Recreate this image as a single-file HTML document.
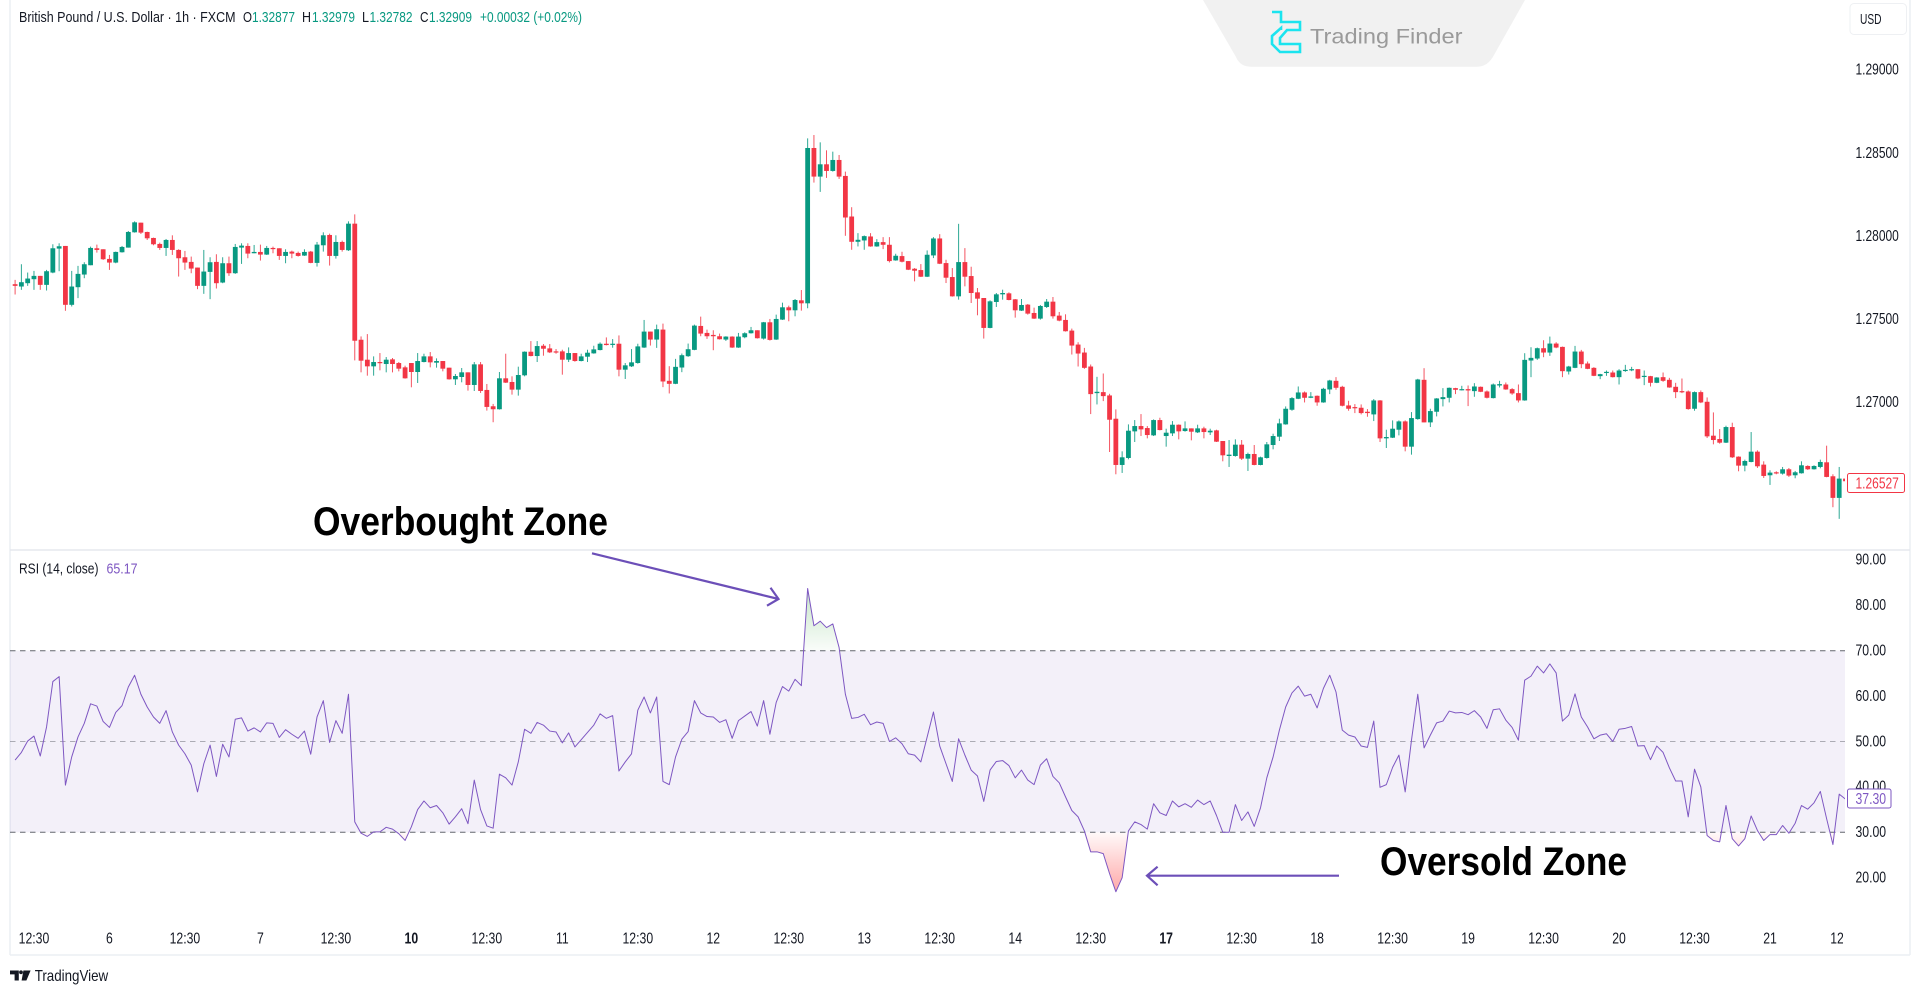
<!DOCTYPE html>
<html lang="en">
<head>
<meta charset="utf-8">
<title>GBP/USD 1h with RSI</title>
<style>
html,body{margin:0;padding:0;background:#fff;width:1919px;height:996px;overflow:hidden}
svg{display:block;filter:blur(0.35px)}
text{font-family:"Liberation Sans",sans-serif;fill:#131722}
</style>
</head>
<body>
<svg id="chart" xmlns="http://www.w3.org/2000/svg" width="1919" height="996" viewBox="0 0 1919 996">
  <defs>
    <clipPath id="plot-clip"><rect x="10" y="0" width="1835" height="955"/></clipPath>
    <clipPath id="time-clip"><rect x="10" y="920" width="1833" height="34"/></clipPath>
    <clipPath id="above-70"><rect x="10" y="551" width="1835" height="99.7"/></clipPath>
    <clipPath id="below-30"><rect x="10" y="832.3" width="1835" height="100"/></clipPath>
    <linearGradient id="ob-gradient" x1="0" y1="0" x2="0" y2="1">
      <stop offset="0" stop-color="#4caf50" stop-opacity="0.32"/>
      <stop offset="1" stop-color="#4caf50" stop-opacity="0.03"/>
    </linearGradient>
    <linearGradient id="os-gradient" x1="0" y1="0" x2="0" y2="1">
      <stop offset="0" stop-color="#ff5252" stop-opacity="0.03"/>
      <stop offset="1" stop-color="#ff5252" stop-opacity="0.5"/>
    </linearGradient>
  </defs>

  <rect x="0" y="0" width="1919" height="996" fill="#ffffff"/>
  <line x1="10" y1="0" x2="10" y2="955" stroke="#eceff4" stroke-width="1.5"/>
  <line x1="1910" y1="0" x2="1910" y2="955" stroke="#eceff4" stroke-width="1.5"/>
  <line x1="10" y1="955" x2="1910" y2="955" stroke="#eceff4" stroke-width="1.5"/>
  <line x1="10" y1="550" x2="1910" y2="550" stroke="#e6e8ee" stroke-width="1.5"/>

  <g id="candles" clip-path="url(#plot-clip)"></g>
  <g id="rsi-pane" clip-path="url(#plot-clip)"></g>
  <g id="price-axis"></g>
  <g id="rsi-axis"></g>
  <g id="time-axis" clip-path="url(#time-clip)"></g>

  <g font-size="15">
    <text x="19" y="22" textLength="216.5" lengthAdjust="spacingAndGlyphs">British Pound / U.S. Dollar · 1h · FXCM</text>
    <text x="243" y="22" textLength="9" lengthAdjust="spacingAndGlyphs">O</text>
    <text x="252" y="22" textLength="43" lengthAdjust="spacingAndGlyphs" style="fill:#089981">1.32877</text>
    <text x="302" y="22" textLength="9" lengthAdjust="spacingAndGlyphs">H</text>
    <text x="312" y="22" textLength="43" lengthAdjust="spacingAndGlyphs" style="fill:#089981">1.32979</text>
    <text x="362" y="22" textLength="7" lengthAdjust="spacingAndGlyphs">L</text>
    <text x="369.5" y="22" textLength="43" lengthAdjust="spacingAndGlyphs" style="fill:#089981">1.32782</text>
    <text x="420" y="22" textLength="8.5" lengthAdjust="spacingAndGlyphs">C</text>
    <text x="429" y="22" textLength="43" lengthAdjust="spacingAndGlyphs" style="fill:#089981">1.32909</text>
    <text x="480" y="22" textLength="102" lengthAdjust="spacingAndGlyphs" style="fill:#089981">+0.00032 (+0.02%)</text>
  </g>

  <g font-size="15">
    <text x="19" y="573.5" textLength="79.5" lengthAdjust="spacingAndGlyphs">RSI (14, close)</text>
    <text x="106.5" y="573.5" textLength="31" lengthAdjust="spacingAndGlyphs" style="fill:#7e57c2">65.17</text>
  </g>

  <g>
    <path d="M1203,0 L1525,0 L1494,55 Q1488,66.7 1477,66.7 L1251,66.7 Q1240,66.7 1236,57 Z" fill="#f1f1f1"/>
    <path d="M1272,12 H1281 V22 H1300 V30 H1287 L1280,38 V44 H1300 V52 H1280 L1272,44 V36 L1281,28 V30" fill="none" stroke="#1be4ef" stroke-width="2.6"/>
    <text x="1310" y="43.5" font-size="21" textLength="152.5" lengthAdjust="spacingAndGlyphs" style="fill:#9a9a9a">Trading Finder</text>
  </g>

  <g>
    <rect x="1850" y="3.5" width="56.5" height="31" rx="4" fill="#fff" stroke="#eef0f3"/>
    <text x="1860" y="24" font-size="15" textLength="21.5" lengthAdjust="spacingAndGlyphs">USD</text>
  </g>

  <g>
    <rect x="1847.5" y="473.5" width="57" height="19" rx="2" fill="#fff" stroke="#f23645" stroke-width="1"/>
    <text x="1855.5" y="488.5" font-size="15.5" textLength="43.3" lengthAdjust="spacingAndGlyphs" style="fill:#f23645">1.26527</text>
  </g>
  <g>
    <rect x="1847.5" y="789" width="43.5" height="19" rx="2" fill="#fff" stroke="#7e57c2" stroke-width="1"/>
    <text x="1855.5" y="804" font-size="15.5" textLength="30.6" lengthAdjust="spacingAndGlyphs" style="fill:#7e57c2">37.30</text>
  </g>

  <g>
    <text x="313" y="535" font-size="40" font-weight="700" textLength="295" lengthAdjust="spacingAndGlyphs" style="fill:#000">Overbought Zone</text>
    <path d="M592,553.3 L778.5,599 M770.5,587.7 L778.5,599 L767,605.7" fill="none" stroke="#6c4fb8" stroke-width="2.2"/>
  </g>
  <g>
    <text x="1380" y="875" font-size="40" font-weight="700" textLength="247" lengthAdjust="spacingAndGlyphs" style="fill:#000">Oversold Zone</text>
    <path d="M1339,875.7 L1147,875.7 M1157.6,866.7 L1147,875.7 L1157.6,885.3" fill="none" stroke="#6c4fb8" stroke-width="2.2"/>
  </g>

  <g>
    <path d="M10,970.5 H18.8 V980.5 H14.6 V974.4 H10 Z M23.4,970.5 H30.6 L26.4,980.5 H21.6 Z" fill="#131722"/>
    <circle cx="21" cy="972.3" r="1.9" fill="#131722"/>
    <text x="34.7" y="981" font-size="16" textLength="73.5" lengthAdjust="spacingAndGlyphs">TradingView</text>
  </g>
</svg>

<script>
const opens = [
1.27712,1.27698,1.27718,1.27742,1.27762,1.27708,1.27782,1.27926,1.27942,1.27588,
1.27694,1.27770,1.27826,1.27928,1.27922,1.27864,1.27842,1.27904,1.27932,1.28024,
1.28082,1.28026,1.27990,1.27954,1.27930,1.27978,1.27918,1.27874,1.27846,1.27812,
1.27702,1.27786,1.27846,1.27722,1.27838,1.27778,1.27932,1.27942,1.27898,1.27906,
1.27890,1.27930,1.27928,1.27882,1.27908,1.27900,1.27884,1.27908,1.27840,1.27946,
1.28008,1.27882,1.27966,1.27916,1.28076,1.27378,1.27258,1.27218,1.27244,1.27232,
1.27260,1.27238,1.27212,1.27238,1.27184,1.27244,1.27278,1.27240,1.27250,1.27210,
1.27140,1.27154,1.27182,1.27106,1.27230,1.27076,1.26978,1.26960,1.27146,1.27124,
1.27078,1.27164,1.27306,1.27280,1.27342,1.27326,1.27308,1.27308,1.27258,1.27298,
1.27250,1.27276,1.27296,1.27316,1.27354,1.27348,1.27354,1.27198,1.27218,1.27238,
1.27331,1.27427,1.27379,1.27439,1.27131,1.27113,1.27211,1.27279,1.27317,1.27461,
1.27419,1.27407,1.27399,1.27379,1.27397,1.27331,1.27393,1.27417,1.27435,1.27385,
1.27483,1.27379,1.27499,1.27573,1.27555,1.27615,1.27597,1.28531,1.28359,1.28433,
1.28393,1.28459,1.28363,1.28119,1.27967,1.27975,1.27999,1.27939,1.27965,1.27949,
1.27855,1.27881,1.27851,1.27805,1.27797,1.27757,1.27885,1.27987,1.27839,1.27755,
1.27639,1.27845,1.27761,1.27663,1.27629,1.27449,1.27605,1.27651,1.27657,1.27621,
1.27553,1.27589,1.27539,1.27505,1.27575,1.27607,1.27523,1.27497,1.27433,1.27349,
1.27301,1.27217,1.27057,1.27063,1.27043,1.26903,1.26625,1.26667,1.26827,1.26859,
1.26847,1.26803,1.26895,1.26799,1.26815,1.26867,1.26829,1.26845,1.26821,1.26845,
1.26821,1.26833,1.26769,1.26679,1.26679,1.26747,1.26663,1.26691,1.26625,1.26667,
1.26745,1.26795,1.26869,1.26957,1.27023,1.27061,1.27029,1.27041,1.27001,1.27079,
1.27131,1.27095,1.26983,1.26973,1.26969,1.26945,1.26929,1.27013,1.26785,1.26789,
1.26837,1.26887,1.26735,1.26901,1.27137,1.26881,1.26945,1.27021,1.27029,1.27087,
1.27075,1.27081,1.27069,1.27095,1.27067,1.27027,1.27103,1.27109,1.27081,1.27057,
1.27013,1.27253,1.27265,1.27327,1.27301,1.27355,1.27335,1.27187,1.27209,1.27307,
1.27235,1.27209,1.27159,1.27181,1.27181,1.27153,1.27193,1.27197,1.27201,1.27157,
1.27159,1.27119,1.27153,1.27137,1.27095,1.27069,1.27067,1.26963,1.27063,1.27005,
1.26801,1.26781,1.26759,1.26853,1.26675,1.26621,1.26643,1.26705,1.26627,1.26563,
1.26581,1.26573,1.26599,1.26563,1.26575,1.26619,1.26599,1.26613,1.26641,1.26557,1.26427,1.26543];

const highs = [
1.27738,1.27832,1.27782,1.27792,1.27762,1.27798,1.27952,1.27958,1.27942,1.27792,
1.27822,1.27844,1.27938,1.27950,1.27922,1.27888,1.27908,1.27942,1.28032,1.28090,
1.28082,1.28028,1.27992,1.27962,1.27984,1.28006,1.27922,1.27912,1.27878,1.27812,
1.27918,1.27874,1.27892,1.27874,1.27878,1.27954,1.27958,1.27958,1.27948,1.27950,
1.27942,1.27938,1.27928,1.27922,1.27914,1.27908,1.27922,1.27912,1.27966,1.28024,
1.28016,1.28006,1.27974,1.28090,1.28132,1.27398,1.27412,1.27278,1.27298,1.27274,
1.27268,1.27244,1.27222,1.27238,1.27298,1.27294,1.27304,1.27266,1.27250,1.27210,
1.27172,1.27208,1.27182,1.27244,1.27244,1.27112,1.26992,1.27184,1.27294,1.27158,
1.27216,1.27308,1.27370,1.27370,1.27352,1.27352,1.27322,1.27318,1.27332,1.27298,
1.27294,1.27318,1.27342,1.27362,1.27392,1.27382,1.27404,1.27238,1.27322,1.27354,
1.27497,1.27427,1.27469,1.27475,1.27219,1.27263,1.27295,1.27355,1.27469,1.27517,
1.27439,1.27435,1.27415,1.27399,1.27399,1.27419,1.27423,1.27455,1.27435,1.27485,
1.27503,1.27529,1.27601,1.27583,1.27623,1.27677,1.28589,1.28609,1.28565,1.28517,
1.28509,1.28489,1.28389,1.28175,1.28019,1.28005,1.28019,1.27983,1.27995,1.27995,
1.27895,1.27907,1.27851,1.27809,1.27833,1.27915,1.27995,1.28013,1.27859,1.27809,
1.28075,1.27929,1.27817,1.27689,1.27629,1.27615,1.27659,1.27679,1.27663,1.27623,
1.27623,1.27593,1.27571,1.27587,1.27623,1.27635,1.27545,1.27531,1.27445,1.27363,
1.27329,1.27229,1.27155,1.27175,1.27053,1.26959,1.26707,1.26869,1.26895,1.26931,
1.26859,1.26899,1.26909,1.26843,1.26889,1.26869,1.26887,1.26845,1.26867,1.26855,
1.26843,1.26837,1.26769,1.26775,1.26779,1.26775,1.26699,1.26745,1.26675,1.26763,
1.26813,1.26903,1.26977,1.27033,1.27097,1.27067,1.27063,1.27043,1.27089,1.27137,
1.27153,1.27101,1.27011,1.26991,1.26989,1.26961,1.27021,1.27015,1.26837,1.26893,
1.26893,1.26893,1.26943,1.27143,1.27207,1.26963,1.27027,1.27087,1.27091,1.27089,
1.27101,1.27103,1.27117,1.27097,1.27073,1.27115,1.27131,1.27121,1.27087,1.27109,
1.27297,1.27333,1.27331,1.27375,1.27397,1.27363,1.27337,1.27221,1.27341,1.27317,
1.27247,1.27213,1.27173,1.27193,1.27193,1.27201,1.27227,1.27215,1.27201,1.27193,
1.27161,1.27153,1.27181,1.27149,1.27119,1.27145,1.27073,1.27067,1.27073,1.27031,
1.26941,1.26841,1.26861,1.26879,1.26677,1.26657,1.26823,1.26713,1.26647,1.26593,
1.26587,1.26613,1.26607,1.26589,1.26647,1.26623,1.26623,1.26657,1.26741,1.26569,1.26613,1.26557];

const lows = [
1.27650,1.27678,1.27702,1.27678,1.27678,1.27674,1.27778,1.27790,1.27552,1.27578,
1.27628,1.27748,1.27826,1.27902,1.27858,1.27798,1.27838,1.27902,1.27932,1.28022,
1.28014,1.27978,1.27946,1.27918,1.27882,1.27888,1.27758,1.27798,1.27778,1.27682,
1.27654,1.27622,1.27686,1.27718,1.27762,1.27774,1.27834,1.27868,1.27898,1.27854,
1.27888,1.27898,1.27858,1.27838,1.27868,1.27878,1.27882,1.27838,1.27818,1.27908,
1.27824,1.27866,1.27908,1.27912,1.27254,1.27182,1.27162,1.27162,1.27194,1.27182,
1.27182,1.27188,1.27144,1.27092,1.27118,1.27242,1.27212,1.27210,1.27188,1.27138,
1.27106,1.27122,1.27072,1.27070,1.27058,1.26952,1.26882,1.26958,1.27118,1.27048,
1.27042,1.27158,1.27278,1.27244,1.27282,1.27298,1.27294,1.27168,1.27244,1.27246,
1.27248,1.27244,1.27294,1.27314,1.27344,1.27330,1.27158,1.27142,1.27214,1.27234,
1.27329,1.27343,1.27329,1.27093,1.27055,1.27111,1.27183,1.27275,1.27315,1.27399,
1.27383,1.27315,1.27379,1.27371,1.27329,1.27329,1.27387,1.27415,1.27385,1.27379,
1.27373,1.27377,1.27497,1.27489,1.27519,1.27553,1.27567,1.28323,1.28267,1.28351,
1.28389,1.28345,1.28003,1.27919,1.27939,1.27919,1.27937,1.27937,1.27923,1.27843,
1.27853,1.27843,1.27797,1.27729,1.27755,1.27755,1.27869,1.27833,1.27719,1.27637,
1.27619,1.27699,1.27599,1.27525,1.27385,1.27447,1.27575,1.27619,1.27615,1.27511,
1.27551,1.27529,1.27503,1.27499,1.27569,1.27505,1.27489,1.27427,1.27289,1.27217,
1.27203,1.26931,1.26989,1.27009,1.26703,1.26569,1.26577,1.26659,1.26763,1.26799,
1.26785,1.26799,1.26833,1.26735,1.26799,1.26779,1.26825,1.26773,1.26817,1.26785,
1.26805,1.26763,1.26647,1.26613,1.26675,1.26655,1.26589,1.26623,1.26623,1.26663,
1.26719,1.26769,1.26867,1.26951,1.27021,1.27001,1.27027,1.26981,1.26999,1.27051,
1.27077,1.26977,1.26951,1.26937,1.26929,1.26915,1.26889,1.26763,1.26727,1.26787,
1.26803,1.26707,1.26687,1.26897,1.26881,1.26853,1.26917,1.26977,1.27001,1.27051,
1.27073,1.26979,1.27035,1.27063,1.27025,1.27025,1.27091,1.27077,1.27047,1.27001,
1.27011,1.27153,1.27257,1.27273,1.27281,1.27327,1.27153,1.27169,1.27207,1.27207,
1.27201,1.27159,1.27141,1.27161,1.27151,1.27109,1.27185,1.27189,1.27141,1.27105,
1.27097,1.27117,1.27125,1.27089,1.27027,1.27057,1.26957,1.26951,1.26997,1.26787,
1.26749,1.26753,1.26757,1.26667,1.26587,1.26587,1.26641,1.26607,1.26547,1.26505,
1.26569,1.26567,1.26553,1.26545,1.26573,1.26595,1.26597,1.26605,1.26551,1.26371,1.26301,1.26525];

const closes = [
1.27702,1.27724,1.27746,1.27762,1.27708,1.27790,1.27928,1.27940,1.27588,1.27698,
1.27774,1.27832,1.27930,1.27918,1.27862,1.27842,1.27906,1.27936,1.28026,1.28084,
1.28022,1.27988,1.27952,1.27930,1.27978,1.27918,1.27868,1.27842,1.27806,1.27702,
1.27788,1.27844,1.27718,1.27838,1.27778,1.27936,1.27944,1.27896,1.27906,1.27890,
1.27930,1.27924,1.27882,1.27906,1.27896,1.27882,1.27906,1.27840,1.27950,1.28006,
1.27882,1.27966,1.27918,1.28076,1.27372,1.27252,1.27218,1.27244,1.27240,1.27258,
1.27232,1.27204,1.27146,1.27184,1.27250,1.27278,1.27242,1.27250,1.27204,1.27140,
1.27160,1.27182,1.27106,1.27230,1.27070,1.26974,1.26960,1.27146,1.27120,1.27078,
1.27166,1.27306,1.27280,1.27340,1.27324,1.27302,1.27302,1.27258,1.27298,1.27250,
1.27278,1.27300,1.27320,1.27354,1.27346,1.27354,1.27198,1.27224,1.27242,1.27338,
1.27427,1.27379,1.27441,1.27127,1.27113,1.27215,1.27285,1.27321,1.27463,1.27415,
1.27399,1.27399,1.27381,1.27397,1.27331,1.27397,1.27417,1.27435,1.27387,1.27483,
1.27377,1.27503,1.27573,1.27555,1.27617,1.27597,1.28531,1.28359,1.28433,1.28393,
1.28459,1.28359,1.28113,1.27967,1.27979,1.28001,1.27939,1.27965,1.27949,1.27851,
1.27883,1.27847,1.27799,1.27793,1.27757,1.27889,1.27987,1.27835,1.27751,1.27639,
1.27845,1.27757,1.27659,1.27625,1.27449,1.27609,1.27651,1.27659,1.27617,1.27555,
1.27587,1.27535,1.27505,1.27581,1.27607,1.27519,1.27493,1.27429,1.27343,1.27295,
1.27209,1.27051,1.27065,1.27039,1.26897,1.26625,1.26671,1.26831,1.26859,1.26839,
1.26805,1.26895,1.26835,1.26819,1.26867,1.26827,1.26845,1.26825,1.26845,1.26823,
1.26831,1.26765,1.26683,1.26687,1.26747,1.26663,1.26691,1.26625,1.26671,1.26749,
1.26799,1.26875,1.26963,1.27027,1.27061,1.27029,1.27037,1.27001,1.27083,1.27133,
1.27089,1.26981,1.26963,1.26967,1.26937,1.26937,1.27013,1.26785,1.26793,1.26843,
1.26887,1.26735,1.26907,1.27139,1.26881,1.26949,1.27025,1.27033,1.27089,1.27077,
1.27081,1.27073,1.27097,1.27065,1.27029,1.27109,1.27111,1.27079,1.27055,1.27013,
1.27257,1.27269,1.27327,1.27301,1.27355,1.27331,1.27189,1.27217,1.27307,1.27231,
1.27203,1.27161,1.27171,1.27185,1.27153,1.27193,1.27197,1.27201,1.27145,1.27161,
1.27119,1.27151,1.27131,1.27091,1.27063,1.27063,1.26961,1.27063,1.27001,1.26797,
1.26775,1.26759,1.26853,1.26671,1.26621,1.26649,1.26705,1.26617,1.26559,1.26579,
1.26575,1.26599,1.26561,1.26581,1.26623,1.26599,1.26619,1.26643,1.26553,1.26427,1.26543,1.26527];

const rsiValues = [
45.9,47.6,50.1,51.2,46.8,53.2,63.2,64.3,40.4,46.6,
51.0,54.0,58.3,57.8,54.4,53.1,56.4,57.9,62.0,64.6,
60.4,57.6,55.4,54.0,56.8,52.1,49.2,47.3,44.8,38.9,
45.1,49.2,42.3,49.4,46.6,54.9,55.2,52.3,53.0,52.1,
54.1,54.0,50.9,52.6,51.6,50.7,52.3,47.2,55.4,59.0,
49.8,54.6,51.8,60.4,32.3,29.8,29.1,30.1,30.1,31.1,
30.7,29.7,28.2,31.2,35.0,36.9,35.4,35.9,34.3,31.8,
33.4,35.2,31.9,41.5,35.0,31.4,30.9,42.8,42.0,40.4,
45.5,52.7,51.8,54.2,53.6,52.3,52.1,49.7,51.9,48.8,
50.4,52.0,53.6,56.1,55.1,55.7,43.5,45.5,47.3,56.9,
59.8,56.3,59.8,41.2,40.5,46.6,50.5,52.2,59.0,56.3,
55.5,55.4,54.2,54.8,50.7,54.6,55.6,56.6,53.4,59.0,
51.6,58.6,62.1,61.1,63.7,62.3,83.7,75.5,76.5,75.1,
75.9,70.7,60.4,55.1,55.3,56.0,53.7,54.3,54.0,50.0,
50.8,49.5,47.3,47.0,45.5,51.0,56.5,49.0,45.1,41.2,
50.6,47.0,43.7,42.4,36.8,43.7,45.6,45.8,44.7,42.0,
43.7,41.5,40.5,44.8,46.2,42.3,40.9,37.8,34.8,33.4,
30.3,25.7,25.7,25.3,20.9,16.9,20.0,30.3,32.3,31.7,
30.7,36.3,34.3,33.7,36.9,35.6,36.3,35.5,37.1,36.1,
36.9,33.7,30.0,30.0,36.1,32.6,34.5,31.3,35.4,42.0,
46.6,52.5,57.6,60.7,62.2,60.0,60.4,57.4,61.7,64.6,
60.9,52.5,51.4,51.0,49.0,48.7,54.5,39.9,40.5,44.3,
47.0,38.9,50.3,60.4,48.6,51.4,54.1,54.5,56.7,56.3,
56.4,55.9,56.8,55.4,52.9,57.0,57.2,54.7,53.1,50.3,
63.5,64.4,66.6,65.1,67.1,65.1,54.5,55.8,60.5,55.4,
53.2,50.6,51.4,51.7,50.0,52.7,52.9,53.3,49.0,49.1,
46.0,49.0,47.6,44.2,41.3,41.3,33.4,43.9,40.0,29.3,
28.2,27.9,35.9,28.6,27.0,28.6,33.6,30.4,28.2,29.5,
29.5,31.5,29.8,32.0,35.9,35.1,36.5,39.0,33.0,27.3,38.4,37.3];

const priceTicks = [1.29, 1.285, 1.28, 1.275, 1.27];
const rsiTicks = [90, 80, 70, 60, 50, 40, 30, 20];
const rsiLevels = [70, 50, 30];
const timeLabels = ["12:30","6","12:30","7","12:30","10","12:30","11","12:30","12","12:30","13","12:30","14","12:30","17","12:30","18","12:30","19","12:30","20","12:30","21","12:30"];
const boldTimeLabels = ["10","17"];

const SVG_NS = "http://www.w3.org/2000/svg";
const UP_COLOR = "#089981";
const DOWN_COLOR = "#f23645";
const RSI_COLOR = "#7e57c2";
const LABELS_PER_BARS = 12;
const FIRST_LABEL_BAR = 3;

function xBar(i) { return 15.1 + i * 6.29; }
function yPrice(p) { return 70 + (1.29 - p) * 16630; }
function yRsi(v) { return 650.7 + (70 - v) * 4.54; }

function make(tag, attrs, parent) {
  const el = document.createElementNS(SVG_NS, tag);
  for (const k in attrs) el.setAttribute(k, attrs[k]);
  parent.appendChild(el);
  return el;
}

// Candles
const candleLayer = document.getElementById("candles");
opens.forEach(function (o, i) {
  const c = closes[i];
  const color = c >= o ? UP_COLOR : DOWN_COLOR;
  const x = xBar(i);
  const group = make("g", {}, candleLayer);
  
  
  const wick = make("line", { x1: x, x2: x, y1: yPrice(highs[i]), y2: yPrice(lows[i]), stroke: color, "stroke-width": 1, "stroke-opacity": 0.85 }, group);
  
  
  const top = yPrice(Math.max(o, c));
  const height = Math.max(1.2, yPrice(Math.min(o, c)) - top);
  const body = make("rect", { x: x - 2.4, y: top, width: 4.8, height: height, fill: color }, group);
  
  
});

// RSI pane
const rsiLayer = document.getElementById("rsi-pane");
const rsiBand = make("rect", { x: 10, y: yRsi(70), width: 1835, height: yRsi(30) - yRsi(70), fill: "#7e57c2", "fill-opacity": 0.09 }, rsiLayer);



const linePoints = rsiValues.map(function (v, i) { return xBar(i).toFixed(2) + "," + yRsi(v).toFixed(2); });
const maxRsi = Math.max.apply(null, rsiValues);
const minRsi = Math.min.apply(null, rsiValues);

const obGrad = document.getElementById("ob-gradient");
obGrad.setAttribute("gradientUnits", "userSpaceOnUse");
obGrad.setAttribute("y1", yRsi(maxRsi));
obGrad.setAttribute("y2", yRsi(70));
const osGrad = document.getElementById("os-gradient");
osGrad.setAttribute("gradientUnits", "userSpaceOnUse");
osGrad.setAttribute("y1", yRsi(30));
osGrad.setAttribute("y2", yRsi(minRsi));

const firstX = xBar(0).toFixed(2);
const lastX = xBar(rsiValues.length - 1).toFixed(2);
const obWrap = make("g", { "clip-path": "url(#above-70)" }, rsiLayer);
const obFill = make("polygon", { points: firstX + "," + yRsi(70) + " " + linePoints.join(" ") + " " + lastX + "," + yRsi(70), fill: "url(#ob-gradient)" }, obWrap);


const osWrap = make("g", { "clip-path": "url(#below-30)" }, rsiLayer);
const osFill = make("polygon", { points: firstX + "," + yRsi(30) + " " + linePoints.join(" ") + " " + lastX + "," + yRsi(30), fill: "url(#os-gradient)" }, osWrap);



rsiLevels.forEach(function (level) {
  const ln = make("line", { x1: 10, x2: 1845, y1: yRsi(level), y2: yRsi(level), stroke: "#63666f", "stroke-width": 1, "stroke-dasharray": "5.5 4.5", "stroke-opacity": level === 50 ? 0.5 : 1 }, rsiLayer);
  
  
});

const rsiLine = make("polyline", { points: linePoints.join(" "), fill: "none", stroke: RSI_COLOR, "stroke-width": 1, "stroke-linejoin": "round" }, rsiLayer);



// Axes
const priceAxis = document.getElementById("price-axis");
priceTicks.forEach(function (p) {
  const t = make("text", { x: 1855.5, y: yPrice(p) + 4.6, "font-size": 15.5, textLength: 43.3, lengthAdjust: "spacingAndGlyphs" }, priceAxis);
  
  
  t.textContent = p.toFixed(5);
});

const rsiAxis = document.getElementById("rsi-axis");
rsiTicks.forEach(function (v) {
  const t = make("text", { x: 1855.5, y: yRsi(v) + 4.8, "font-size": 15.5, textLength: 30.6, lengthAdjust: "spacingAndGlyphs" }, rsiAxis);
  
  
  t.textContent = v.toFixed(2);
});

const timeAxis = document.getElementById("time-axis");
timeLabels.forEach(function (label, k) {
  const cx = xBar(FIRST_LABEL_BAR + k * LABELS_PER_BARS);
  const bold = boldTimeLabels.indexOf(label) >= 0;
  const t = make("text", { transform: "translate(" + cx + ",943.5) scale(0.79,1)", "text-anchor": "middle", "font-size": 15.5 }, timeAxis);
  if (bold) t.setAttribute("font-weight", "700");
  
  
  t.textContent = label;
});
</script>
</body>
</html>
